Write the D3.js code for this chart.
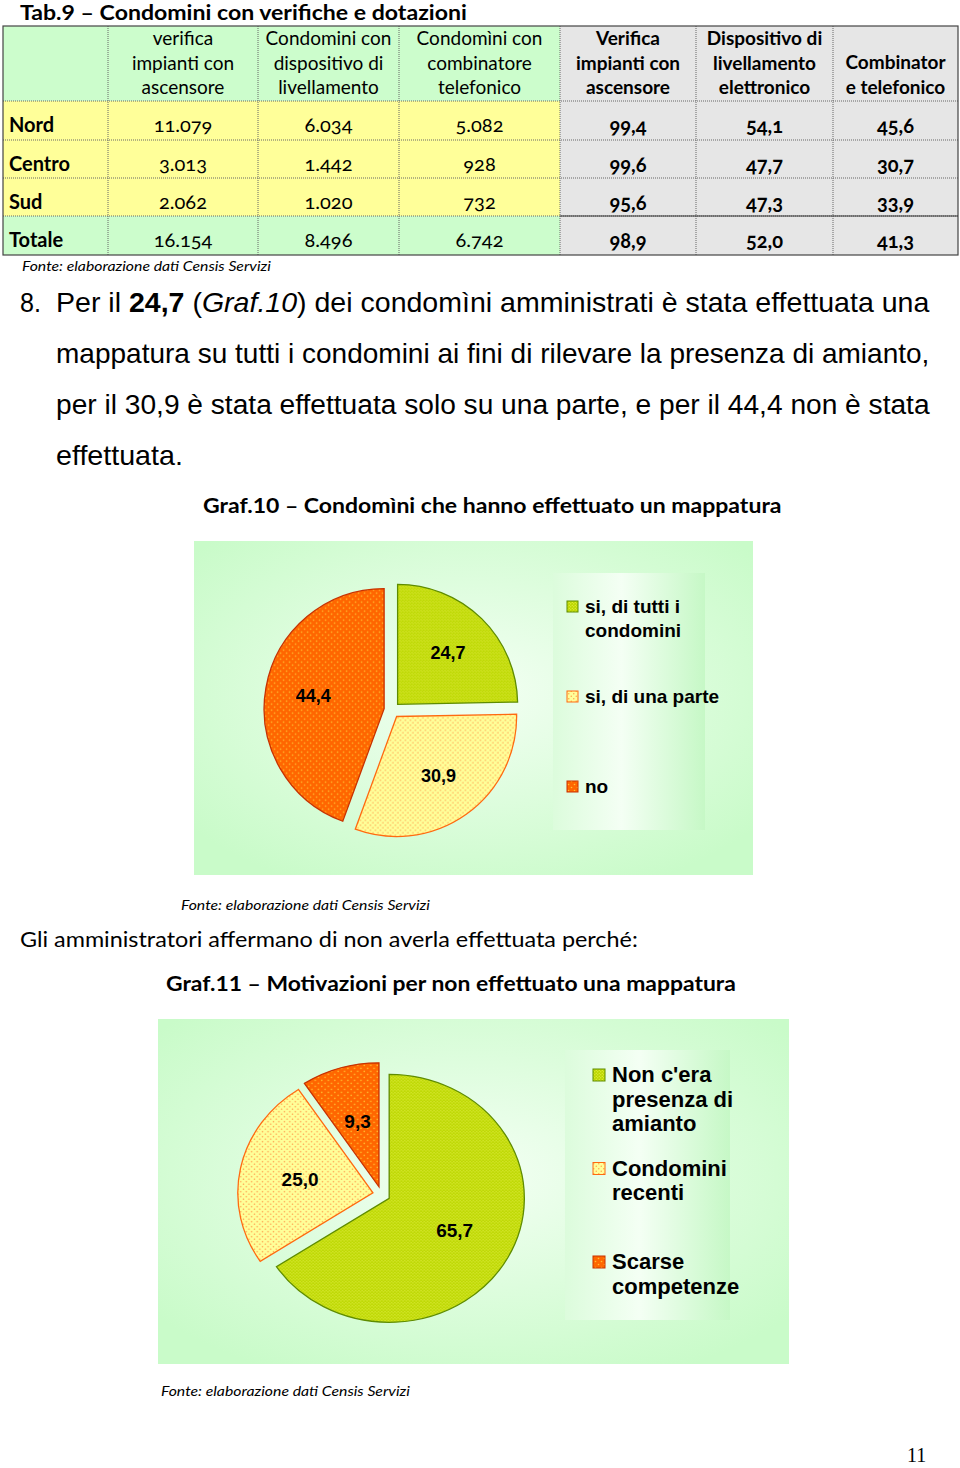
<!DOCTYPE html>
<html><head><meta charset="utf-8">
<script src="https://cdn.jsdelivr.net/npm/d3@7"></script>
<style>body{margin:0;background:#fff}svg{display:block}</style>
</head><body>
<svg id="c" width="960" height="1468"></svg>
<script>
// ---------- DATA ----------
const rowLabels = ["Nord", "Centro", "Sud", "Totale"];
const headerLabels = [
  ["verifica", "impianti con", "ascensore"],
  ["Condomini con", "dispositivo di", "livellamento"],
  ["Condomìni con", "combinatore", "telefonico"],
  ["Verifica", "impianti con", "ascensore"],
  ["Dispositivo di", "livellamento", "elettronico"],
  ["Combinator", "e telefonico"]
];
const verificaImpianti = [11079, 3013, 2062, 16154];
const dispositivoLivellamento = [6034, 1442, 1020, 8496];
const combinatoreTelefonico = [5082, 928, 732, 6742];
const pctVerifica = [99.4, 99.6, 95.6, 98.9];
const pctDispositivo = [54.1, 47.7, 47.3, 52.0];
const pctCombinatore = [45.6, 30.7, 33.9, 41.3];

const graf10Labels = [["si, di tutti i", "condomini"], ["si, di una parte"], ["no"]];
const graf10Values = [24.7, 30.9, 44.4];
const graf11Labels = [["Non c'era", "presenza di", "amianto"], ["Condomini", "recenti"], ["Scarse", "competenze"]];
const graf11Values = [65.7, 25.0, 9.3];

// ---------- HELPERS ----------
const loc = d3.formatLocale({decimal: ",", thousands: ".", grouping: [3], currency: ["", "€"]});
const fInt = loc.format(",d");
const fPct = loc.format(".1f");
const svg = d3.select("#c");
const defs = svg.append("defs");
const SANS = "Lato, 'Open Sans', sans-serif";
const ARIAL = "'Liberation Sans', Arial, sans-serif";

function fit(sel, x, y, width) {
  const w = sel.node().getComputedTextLength();
  sel.attr("x", 0).attr("y", 0)
     .attr("transform", `translate(${x},${y}) scale(${width / w},1)`);
  return sel;
}
function txt(parent, x, y, s, o = {}) {
  const t = parent.append("text").attr("x", x).attr("y", y)
    .attr("font-family", o.family || SANS)
    .attr("font-size", o.size || 18)
    .attr("font-weight", o.weight || "normal")
    .attr("font-style", o.style || "normal")
    .attr("fill", o.fill || "#000")
    .attr("text-anchor", o.anchor || "start")
    .text(s);
  if (o.onum) t.style("font-variant-numeric", "oldstyle-nums");
  if (o.width) fit(t, x, y, o.width);
  return t;
}

// ---------- TABLE ----------
txt(svg, 20, 20, "Tab.9 – Condomini con verifiche e dotazioni", {size: 20, weight: "bold", width: 447});

const colEdges = [3, 108, 258, 399, 560, 696, 833, 958];
const rowEdges = [26, 101, 140, 178, 216, 255];
const GREEN = "#ccfdcc", YELLOW = "#ffff99", GRAY = "#e6e6e6";
const tbl = svg.append("g");
const nRows = rowEdges.length - 1, nCols = colEdges.length - 1;
const cells = [];
for (let r = 0; r < nRows; r++) for (let c = 0; c < nCols; c++) {
  let fill = GRAY;
  if (c < 4) fill = (r === 0 || r === nRows - 1) ? GREEN : YELLOW;
  cells.push({r, c, fill});
}
tbl.selectAll("rect.cell").data(cells).enter().append("rect")
  .attr("x", d => colEdges[d.c]).attr("y", d => rowEdges[d.r])
  .attr("width", d => colEdges[d.c + 1] - colEdges[d.c])
  .attr("height", d => rowEdges[d.r + 1] - rowEdges[d.r])
  .attr("fill", d => d.fill);
colEdges.slice(1, -1).forEach(x => tbl.append("line").attr("x1", x).attr("x2", x)
  .attr("y1", rowEdges[0]).attr("y2", rowEdges[nRows])
  .attr("stroke", "#666").attr("stroke-dasharray", "1,1"));
rowEdges.slice(1, -1).forEach(y => {
  tbl.append("line").attr("x1", colEdges[0]).attr("x2", colEdges[nCols]).attr("y1", y).attr("y2", y)
    .attr("stroke", "#666").attr("stroke-dasharray", "1,1");
});
tbl.append("line").attr("x1", colEdges[4]).attr("x2", colEdges[nCols]).attr("y1", rowEdges[4]).attr("y2", rowEdges[4])
  .attr("stroke", "#333").attr("stroke-width", 1.2);
tbl.append("rect").attr("x", colEdges[0]).attr("y", rowEdges[0])
  .attr("width", colEdges[nCols] - colEdges[0]).attr("height", rowEdges[nRows] - rowEdges[0])
  .attr("fill", "none").attr("stroke", "#444").attr("stroke-width", 1.2);

headerLabels.forEach((lines, i) => {
  const c = i + 1;
  const cx = (colEdges[c] + colEdges[c + 1]) / 2;
  const bold = c >= 4;
  const baseY = lines.length === 3 ? 45 : 69;
  lines.forEach((l, j) => txt(tbl, cx, baseY + j * 24.5, l,
    {size: 19, weight: bold ? "bold" : "normal", anchor: "middle"}));
});
const cols = [verificaImpianti, dispositivoLivellamento, combinatoreTelefonico, pctVerifica, pctDispositivo, pctCombinatore];
rowLabels.forEach((lab, r) => {
  const y0 = rowEdges[r + 1], y1 = rowEdges[r + 2];
  const by = (y0 + y1) / 2 + 11.5;
  txt(tbl, 9, by, lab, {size: 20, weight: "bold"});
  cols.forEach((arr, k) => {
    const c = k + 1;
    const cx = (colEdges[c] + colEdges[c + 1]) / 2;
    const isPct = k >= 3;
    txt(tbl, cx, by + (isPct ? 1 : 0), isPct ? fPct(arr[r]) : fInt(arr[r]),
      {size: 20, weight: isPct ? "bold" : "normal", anchor: "middle", onum: true});
  });
});
txt(svg, 22, 271, "Fonte: elaborazione dati Censis Servizi", {size: 14, style: "italic", width: 249});

// ---------- PARAGRAPH ----------
const PF = "'Liberation Sans Narrow', 'Liberation Sans', sans-serif";
txt(svg, 20, 312, "8.", {size: 27, family: PF, width: 21});
{
  const t = svg.append("text").attr("font-family", PF).attr("font-size", 27).attr("x", 56).attr("y", 312);
  t.append("tspan").text("Per il ");
  t.append("tspan").attr("font-weight", "bold").text("24,7");
  t.append("tspan").text(" (");
  t.append("tspan").attr("font-style", "italic").text("Graf.10");
  t.append("tspan").text(") dei condomìni amministrati è stata effettuata una");
  fit(t, 56, 312, 874);
}
txt(svg, 56, 363, "mappatura su tutti i condomini ai fini di rilevare la presenza di amianto,", {size: 27, family: PF, width: 874});
txt(svg, 56, 414, "per il 30,9 è stata effettuata solo su una parte, e per il 44,4 non è stata", {size: 27, family: PF, width: 874});
txt(svg, 56, 465, "effettuata.", {size: 27, family: PF, width: 127});

// ---------- PATTERNS / GRADIENTS ----------
function pattern(id, size, bg, dot, r) {
  const p = defs.append("pattern").attr("id", id).attr("width", size).attr("height", size)
    .attr("patternUnits", "userSpaceOnUse");
  p.append("rect").attr("width", size).attr("height", size).attr("fill", bg);
  p.append("circle").attr("cx", size / 4).attr("cy", size / 4).attr("r", r).attr("fill", dot);
  p.append("circle").attr("cx", size * 3 / 4).attr("cy", size * 3 / 4).attr("r", r).attr("fill", dot);
}
pattern("pGreen", 3, "#bcd800", "#eef25a", 0.6);
pattern("pYellow", 5, "#ffff99", "#ffa550", 0.75);
pattern("pOrange", 6, "#ff6600", "#ffc030", 0.8);
const fills = ["url(#pGreen)", "url(#pYellow)", "url(#pOrange)"];
const strokes = ["#5f8c00", "#ff6a10", "#c83200"];

const rg = defs.append("radialGradient").attr("id", "bgGrad").attr("cx", "50%").attr("cy", "45%").attr("r", "65%");
rg.append("stop").attr("offset", "0%").attr("stop-color", "#f3fff3");
rg.append("stop").attr("offset", "100%").attr("stop-color", "#c9fbc9");
const lg = defs.append("linearGradient").attr("id", "legGrad");
lg.append("stop").attr("offset", "0%").attr("stop-color", "#dcfcdc");
lg.append("stop").attr("offset", "45%").attr("stop-color", "#f4fff4");
lg.append("stop").attr("offset", "100%").attr("stop-color", "#c6f8c6");

// ---------- PIE CHART ----------
function pieChart(o) {
  const g = svg.append("g");
  g.append("rect").attr("x", o.box[0]).attr("y", o.box[1]).attr("width", o.box[2]).attr("height", o.box[3])
    .attr("fill", "url(#bgGrad)");
  g.append("rect").attr("x", o.leg[0]).attr("y", o.leg[1]).attr("width", o.leg[2]).attr("height", o.leg[3])
    .attr("fill", "url(#legGrad)");
  const arcs = d3.pie().sort(null).value(d => d)(o.values);
  const arc = d3.arc().innerRadius(0).outerRadius(o.r);
  const pg = g.append("g").attr("transform", `translate(${o.cx},${o.cy}) scale(${o.sx},1)`);
  pg.selectAll("path").data(arcs).enter().append("path")
    .attr("transform", d => {
      const m = (d.startAngle + d.endAngle) / 2;
      return `translate(${Math.sin(m) * o.explode},${-Math.cos(m) * o.explode})`;
    })
    .attr("d", arc)
    .attr("fill", (d, i) => fills[i])
    .attr("stroke", (d, i) => strokes[i]).attr("stroke-width", 1.3)
    .attr("vector-effect", "non-scaling-stroke");
  arcs.forEach((d, i) => {
    const m = (d.startAngle + d.endAngle) / 2;
    const rr = o.explode + o.r * o.lab;
    txt(g, o.cx + Math.sin(m) * rr * o.sx, o.cy - Math.cos(m) * rr, fPct(o.values[i]),
      {family: ARIAL, weight: "bold", size: o.labSize, anchor: "middle"}).attr("dy", "0.36em");
  });
  const ly = d3.scaleLinear().domain([0, 1]).range([o.legY, o.legY + o.legStep]);
  o.labels.forEach((lines, i) => {
    const y = ly(i);
    g.append("rect").attr("x", o.legX).attr("y", y - o.sw + 1).attr("width", o.sw - 1).attr("height", o.sw - 1)
      .attr("fill", fills[i]).attr("stroke", strokes[i]).attr("stroke-width", 1);
    lines.forEach((l, j) => txt(g, o.legX + o.sw + 6, y + j * o.lineH + 1, l,
      {family: ARIAL, weight: "bold", size: o.legSize}));
  });
}

txt(svg, 203, 513, "Graf.10 – Condomìni che hanno effettuato un mappatura", {size: 21, weight: "bold", width: 579});
pieChart({box: [194, 541, 559, 334], leg: [553, 573, 152, 257], values: graf10Values, labels: graf10Labels,
  cx: 392, cy: 710, r: 120, sx: 1, explode: 8, lab: 0.6, labSize: 18,
  legX: 567, legY: 612, legStep: 90, sw: 12, lineH: 24, legSize: 19});
txt(svg, 181, 910, "Fonte: elaborazione dati Censis Servizi", {size: 14, style: "italic", width: 249});

txt(svg, 20, 947, "Gli amministratori affermano di non averla effettuata perché:", {size: 22, width: 618});
txt(svg, 166, 991, "Graf.11 – Motivazioni per non effettuato una mappatura", {size: 21, weight: "bold", width: 570});
pieChart({box: [158, 1019, 631, 345], leg: [565, 1050, 165, 270], values: graf11Values, labels: graf11Labels,
  cx: 381.5, cy: 1194.5, r: 124, sx: 1.09, explode: 8, lab: 0.55, labSize: 19,
  legX: 593, legY: 1081, legStep: 93.5, sw: 13, lineH: 24.5, legSize: 22});
txt(svg, 161, 1396, "Fonte: elaborazione dati Censis Servizi", {size: 14, style: "italic", width: 249});

txt(svg, 907, 1462, "11", {family: "'Liberation Serif', serif", size: 20});
</script>
</body></html>
